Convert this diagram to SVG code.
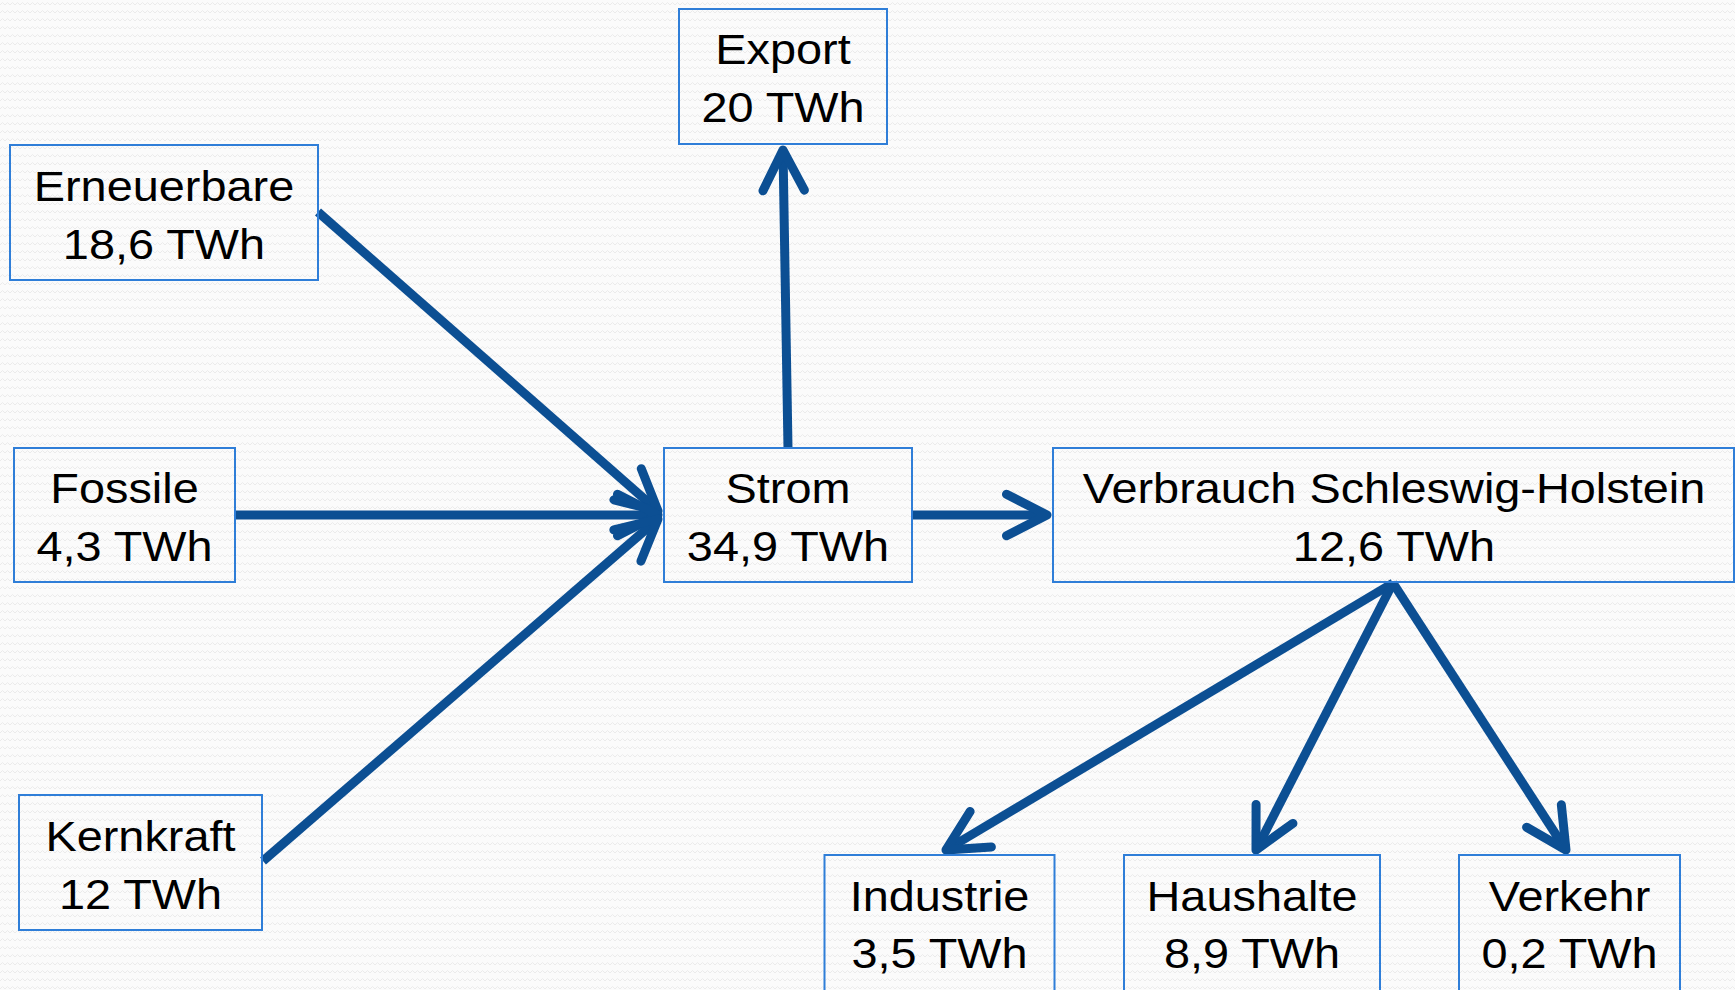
<svg xmlns="http://www.w3.org/2000/svg" width="1735" height="990" viewBox="0 0 1735 990">
<defs>
<pattern id="bg" width="10" height="8" patternUnits="userSpaceOnUse">
<rect width="10" height="8" fill="#fbfbfb"/>
<path d="M0,5 L2.5,2.5 L5,5 L7.5,2.5 L10,5" fill="none" stroke="#ebebeb" stroke-width="1"/>
</pattern>
<marker id="ah" markerUnits="strokeWidth" markerWidth="10" markerHeight="10" refX="0" refY="0" orient="auto" overflow="visible">
<path d="M-4.5,-2.3 L0,0 L-4.5,2.3" fill="none" stroke="#0c4f93" stroke-width="1" stroke-linecap="round" stroke-linejoin="round"/>
</marker>
<style>
.box{fill:none;stroke:#2f7ed8;stroke-width:2}
.t{font-family:"Liberation Sans",Arial,sans-serif;font-size:43px;fill:#000;text-anchor:middle}
.c{fill:none;stroke:#0c4f93;stroke-width:9;marker-end:url(#ah)}
</style>
</defs>
<rect width="1735" height="990" fill="url(#bg)"/>
<g id="connectors">
<path class="c" d="M318,212 L658,511"/>
<path class="c" d="M235,515 L658,515"/>
<path class="c" d="M263,861 L658,519"/>
<path class="c" d="M788,448 L783,150"/>
<path class="c" d="M912,515 L1047,515"/>
<path class="c" d="M1393,583 L946,850"/>
<path class="c" d="M1393,583 L1256,850"/>
<path class="c" d="M1393,583 L1566,850"/>
</g>
<g id="export">
<rect class="box" x="679" y="9" width="208" height="135"/>
<text class="t" transform="translate(783 0) scale(1.09 1)"><tspan x="0" y="64.5">Export</tspan><tspan x="0" y="122.5">20 TWh</tspan></text>
</g>
<g id="erneuerbare">
<rect class="box" x="10" y="145" width="308" height="135"/>
<text class="t" transform="translate(164 0) scale(1.09 1)"><tspan x="0" y="201">Erneuerbare</tspan><tspan x="0" y="259">18,6 TWh</tspan></text>
</g>
<g id="fossile">
<rect class="box" x="14" y="448" width="221" height="134"/>
<text class="t" transform="translate(124.5 0) scale(1.09 1)"><tspan x="0" y="503">Fossile</tspan><tspan x="0" y="561">4,3 TWh</tspan></text>
</g>
<g id="kernkraft">
<rect class="box" x="19" y="795" width="243" height="135"/>
<text class="t" transform="translate(140.5 0) scale(1.09 1)"><tspan x="0" y="851">Kernkraft</tspan><tspan x="0" y="909">12 TWh</tspan></text>
</g>
<g id="strom">
<rect class="box" x="664" y="448" width="248" height="134"/>
<text class="t" transform="translate(788 0) scale(1.09 1)"><tspan x="0" y="503">Strom</tspan><tspan x="0" y="561">34,9 TWh</tspan></text>
</g>
<g id="verbrauch">
<rect class="box" x="1053" y="448" width="681" height="134"/>
<text class="t" transform="translate(1394 0) scale(1.09 1)"><tspan x="0" y="503">Verbrauch Schleswig-Holstein</tspan><tspan x="0" y="561">12,6 TWh</tspan></text>
</g>
<g id="industrie">
<rect class="box" x="824.5" y="855" width="230" height="140"/>
<text class="t" transform="translate(939.5 0) scale(1.09 1)"><tspan x="0" y="911">Industrie</tspan><tspan x="0" y="968.5">3,5 TWh</tspan></text>
</g>
<g id="haushalte">
<rect class="box" x="1124" y="855" width="256" height="140"/>
<text class="t" transform="translate(1252 0) scale(1.09 1)"><tspan x="0" y="911">Haushalte</tspan><tspan x="0" y="968.5">8,9 TWh</tspan></text>
</g>
<g id="verkehr">
<rect class="box" x="1459" y="855" width="221" height="140"/>
<text class="t" transform="translate(1569.5 0) scale(1.09 1)"><tspan x="0" y="911">Verkehr</tspan><tspan x="0" y="968.5">0,2 TWh</tspan></text>
</g>
</svg>
